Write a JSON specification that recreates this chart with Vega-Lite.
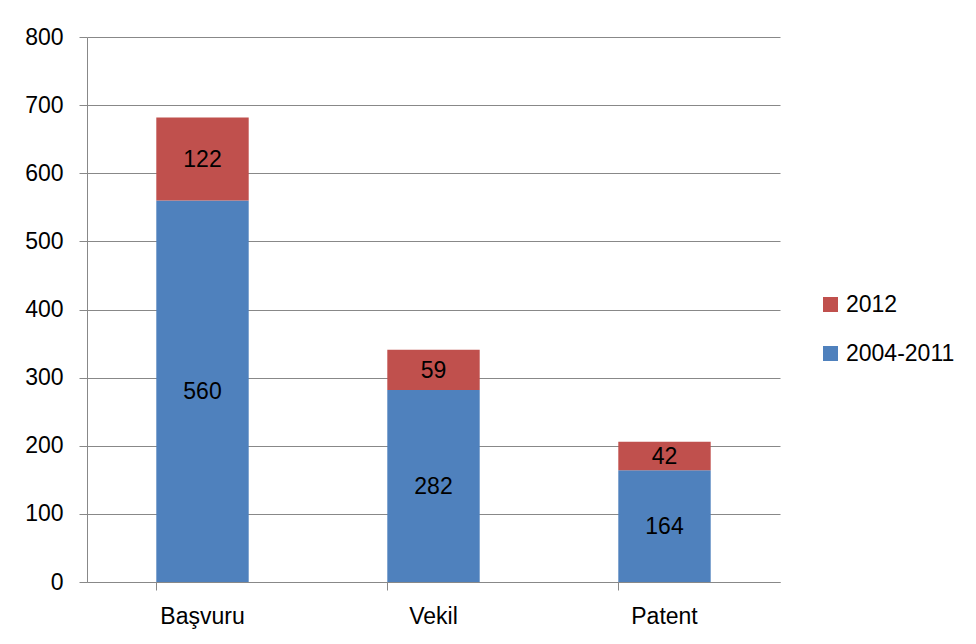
{
  "$schema": "https://vega.github.io/schema/vega-lite/v6.json",
  "autosize": "none",
  "width": 693,
  "height": 545,
  "padding": {"left": 87, "top": 37, "right": 196, "bottom": 62},
  "background": "white",
  "config": {
    "view": {"stroke": null},
    "font": "Liberation Sans"
  },
  "data": {
    "values": [
      {"cat": "Başvuru", "series": "2004-2011", "value": 560},
      {"cat": "Başvuru", "series": "2012", "value": 122},
      {"cat": "Vekil", "series": "2004-2011", "value": 282},
      {"cat": "Vekil", "series": "2012", "value": 59},
      {"cat": "Patent", "series": "2004-2011", "value": 164},
      {"cat": "Patent", "series": "2012", "value": 42}
    ]
  },
  "transform": [
    {"stack": "value", "groupby": ["cat"], "sort": [{"field": "series", "order": "ascending"}], "as": ["y0", "y1"]},
    {"calculate": "(datum.y0 + datum.y1) / 2", "as": "ymid"}
  ],
  "encoding": {
    "x": {
      "field": "cat", "type": "nominal", "sort": ["Başvuru", "Vekil", "Patent"],
      "scale": {"paddingInner": 0.6, "paddingOuter": 0.3},
      "axis": {
        "title": null, "labelAngle": 0, "labelFontSize": 23, "labelColor": "black",
        "domainColor": "#888888", "tickColor": "#888888", "tickSize": 8,
        "bandPosition": 0, "labelPadding": 15, "grid": false
      }
    }
  },
  "layer": [
    {
      "mark": {"type": "bar"},
      "encoding": {
        "y": {
          "field": "y0", "type": "quantitative",
          "scale": {"domain": [0, 800]},
          "axis": {
            "title": null, "values": [0, 100, 200, 300, 400, 500, 600, 700, 800],
            "labelFontSize": 23, "labelColor": "black", "labelPadding": 16,
            "domainColor": "#888888", "tickColor": "#888888", "tickSize": 8,
            "gridColor": "#888888", "grid": true
          }
        },
        "y2": {"field": "y1"},
        "color": {
          "field": "series", "type": "nominal",
          "scale": {"domain": ["2012", "2004-2011"], "range": ["#C0504D", "#4F81BD"]},
          "legend": {
            "title": null, "orient": "none", "legendX": 732, "legendY": 256,
            "symbolType": "square", "symbolSize": 225, "symbolStrokeWidth": 0,
            "labelFontSize": 23, "labelColor": "black", "rowPadding": 25, "labelOffset": 4
          }
        }
      }
    },
    {
      "mark": {"type": "text", "fontSize": 23, "color": "black", "baseline": "middle", "dy": 1},
      "encoding": {
        "y": {"field": "ymid", "type": "quantitative"},
        "text": {"field": "value", "type": "quantitative"}
      }
    }
  ]
}
